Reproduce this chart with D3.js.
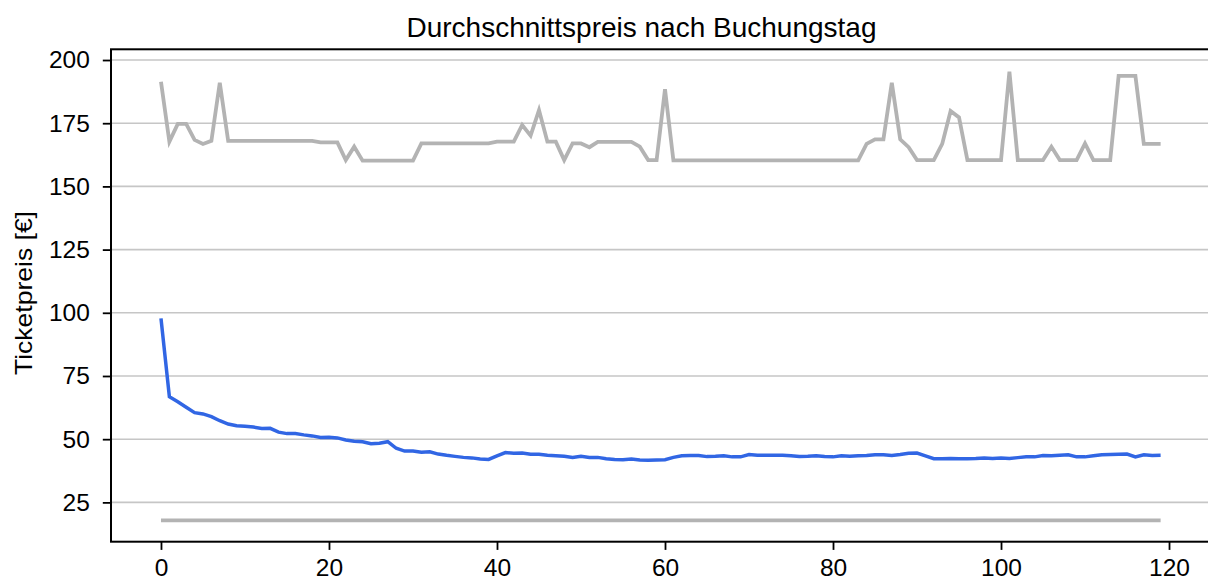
<!DOCTYPE html>
<html>
<head>
<meta charset="utf-8">
<script src="https://cdn.jsdelivr.net/npm/d3@7"></script>
<style>
  body { margin: 0; background: #fff; }
  svg { display: block; font-family: "Liberation Sans", Arial, Helvetica, sans-serif; }
</style>
</head>
<body>
<div id="chart"></div>
<script>
// Buchungstag (Tage vor Abfahrt)
var days = d3.range(0, 120);

// Höchstpreis je Buchungstag
var maxPrice = [
  191.4, 167.7, 174.7, 174.7, 168.4, 166.8, 168.0, 191.0,
  168.0, 168.0, 168.0, 168.0, 168.0, 168.0, 168.0, 168.0, 168.0, 168.0, 168.0,
  167.4, 167.4, 167.4, 160.4, 165.7,
  160.2, 160.2, 160.2, 160.2, 160.2, 160.2, 160.2,
  167.0, 167.0, 167.0, 167.0, 167.0, 167.0, 167.0, 167.0, 167.0,
  167.7, 167.7, 167.7, 174.3, 170.1, 180.2, 167.7, 167.7, 160.4, 167.0, 167.0, 165.5,
  167.6, 167.6, 167.6, 167.6, 167.6, 165.7, 160.4, 160.4, 188.4,
  160.3, 160.3, 160.3, 160.3, 160.3, 160.3, 160.3, 160.3, 160.3, 160.3, 160.3, 160.3,
  160.3, 160.3, 160.3, 160.3, 160.3, 160.3, 160.3, 160.3, 160.3, 160.3, 160.3,
  166.8, 168.6, 168.6, 191.0, 168.6, 165.5,
  160.4, 160.4, 160.4, 166.8, 179.8, 177.3,
  160.4, 160.4, 160.4, 160.4, 160.4, 195.4,
  160.4, 160.4, 160.4, 160.4, 165.7, 160.4, 160.4, 160.4, 167.0,
  160.4, 160.4, 160.4, 193.7, 193.7, 193.7, 166.8, 166.8, 166.8
];

// Durchschnittspreis je Buchungstag
var meanPrice = [
  97.8, 66.8, 64.8, 62.6, 60.5, 60.0, 58.9, 57.3, 56.0, 55.3,
  55.1, 54.8, 54.2, 54.3, 52.8, 52.2, 52.2, 51.7, 51.3, 50.7,
  50.8, 50.5, 49.7, 49.2, 49.0, 48.2, 48.4, 49.0, 46.4, 45.3,
  45.3, 44.8, 45.0, 44.1, 43.6, 43.2, 42.8, 42.6, 42.2, 42.0,
  43.4, 44.7, 44.4, 44.5, 44.0, 44.0, 43.6, 43.4, 43.2, 42.8,
  43.2, 42.8, 42.8, 42.3, 42.0, 41.9, 42.2, 41.8, 41.7, 41.8,
  41.9, 42.8, 43.4, 43.5, 43.5, 43.1, 43.2, 43.4, 43.0, 43.0,
  43.9, 43.6, 43.6, 43.6, 43.6, 43.4, 43.1, 43.2, 43.4, 43.1,
  43.0, 43.4, 43.2, 43.4, 43.5, 43.8, 43.8, 43.5, 43.9, 44.4,
  44.5, 43.4, 42.3, 42.3, 42.4, 42.3, 42.3, 42.4, 42.6, 42.4,
  42.6, 42.4, 42.7, 43.0, 43.0, 43.5, 43.4, 43.6, 43.8, 43.0,
  43.0, 43.4, 43.8, 43.9, 44.0, 44.1, 43.0, 43.8, 43.5, 43.6
];

// Tiefstpreis je Buchungstag
var minPrice = [
  17.9, 17.9, 17.9, 17.9, 17.9, 17.9, 17.9, 17.9, 17.9, 17.9,
  17.9, 17.9, 17.9, 17.9, 17.9, 17.9, 17.9, 17.9, 17.9, 17.9,
  17.9, 17.9, 17.9, 17.9, 17.9, 17.9, 17.9, 17.9, 17.9, 17.9,
  17.9, 17.9, 17.9, 17.9, 17.9, 17.9, 17.9, 17.9, 17.9, 17.9,
  17.9, 17.9, 17.9, 17.9, 17.9, 17.9, 17.9, 17.9, 17.9, 17.9,
  17.9, 17.9, 17.9, 17.9, 17.9, 17.9, 17.9, 17.9, 17.9, 17.9,
  17.9, 17.9, 17.9, 17.9, 17.9, 17.9, 17.9, 17.9, 17.9, 17.9,
  17.9, 17.9, 17.9, 17.9, 17.9, 17.9, 17.9, 17.9, 17.9, 17.9,
  17.9, 17.9, 17.9, 17.9, 17.9, 17.9, 17.9, 17.9, 17.9, 17.9,
  17.9, 17.9, 17.9, 17.9, 17.9, 17.9, 17.9, 17.9, 17.9, 17.9,
  17.9, 17.9, 17.9, 17.9, 17.9, 17.9, 17.9, 17.9, 17.9, 17.9,
  17.9, 17.9, 17.9, 17.9, 17.9, 17.9, 17.9, 17.9, 17.9, 17.9
];

var xTicks = [0, 20, 40, 60, 80, 100, 120];
var yTicks = [25, 50, 75, 100, 125, 150, 175, 200];

var titleText = "Durchschnittspreis nach Buchungstag";
var yLabelText = "Ticketpreis [€]";

// figure size and plot box (right spine sits just past the window edge)
var width = 1208;
var height = 583;
var plotLeft = 111, plotRight = 1210.6, plotTop = 49.3, plotBottom = 541.7;

var svg = d3.select('#chart')
  .append('svg')
  .attr('width', width)
  .attr('height', height);

// x has 5% padding each side like matplotlib
var x = d3.scaleLinear()
  .domain([-5.95, 124.95])
  .range([plotLeft, plotRight]);

var y = d3.scaleLinear()
  .domain([9.44, 204.24])
  .range([plotBottom, plotTop]);

// horizontal grid
svg.append('g')
  .selectAll('line')
  .data(yTicks)
  .enter()
  .append('line')
  .attr('x1', plotLeft)
  .attr('x2', plotRight)
  .attr('y1', function(d) { return y(d); })
  .attr('y2', function(d) { return y(d); })
  .attr('stroke', '#c6c6c6')
  .attr('stroke-width', 1.6);

var line = d3.line()
  .x(function(d, i) { return x(days[i]); })
  .y(function(d) { return y(d); });

// series: max (grey), mean (blue), min (grey)
svg.append('path')
  .datum(maxPrice)
  .attr('d', line)
  .attr('fill', 'none')
  .attr('stroke', '#b3b3b3')
  .attr('stroke-width', 3.8);

svg.append('path')
  .datum(meanPrice)
  .attr('d', line)
  .attr('fill', 'none')
  .attr('stroke', '#3166e4')
  .attr('stroke-width', 3.5);

svg.append('path')
  .datum(minPrice)
  .attr('d', line)
  .attr('fill', 'none')
  .attr('stroke', '#b3b3b3')
  .attr('stroke-width', 3.8);

// axes
var xAxis = d3.axisBottom(x)
  .tickValues(xTicks)
  .tickSize(8.2)
  .tickPadding(9)
  .tickSizeOuter(0);

var yAxis = d3.axisLeft(y)
  .tickValues(yTicks)
  .tickSize(8.2)
  .tickPadding(13)
  .tickSizeOuter(0);

var gx = svg.append('g')
  .attr('transform', 'translate(0,' + plotBottom + ')')
  .call(xAxis);

var gy = svg.append('g')
  .attr('transform', 'translate(' + plotLeft + ',0)')
  .call(yAxis);

[gx, gy].forEach(function(g) {
  g.select('.domain').remove();
  g.selectAll('.tick line').attr('stroke', '#000').attr('stroke-width', 1.8);
  g.selectAll('.tick text')
    .attr('fill', '#000')
    .style('font-size', '24.5px')
    .style('font-family', '"Liberation Sans", Arial, Helvetica, sans-serif');
});

// spines
svg.append('rect')
  .attr('x', plotLeft)
  .attr('y', plotTop)
  .attr('width', plotRight - plotLeft)
  .attr('height', plotBottom - plotTop)
  .attr('fill', 'none')
  .attr('stroke', '#000')
  .attr('stroke-width', 2);

// title
svg.append('text')
  .attr('x', 641.5)
  .attr('y', 37)
  .attr('text-anchor', 'middle')
  .style('font-size', '28px')
  .text(titleText);

// y label
svg.append('text')
  .attr('transform', 'translate(32,293) rotate(-90)')
  .attr('text-anchor', 'middle')
  .attr('textLength', 164)
  .attr('lengthAdjust', 'spacingAndGlyphs')
  .style('font-size', '24px')
  .text(yLabelText);
</script>
</body>
</html>
